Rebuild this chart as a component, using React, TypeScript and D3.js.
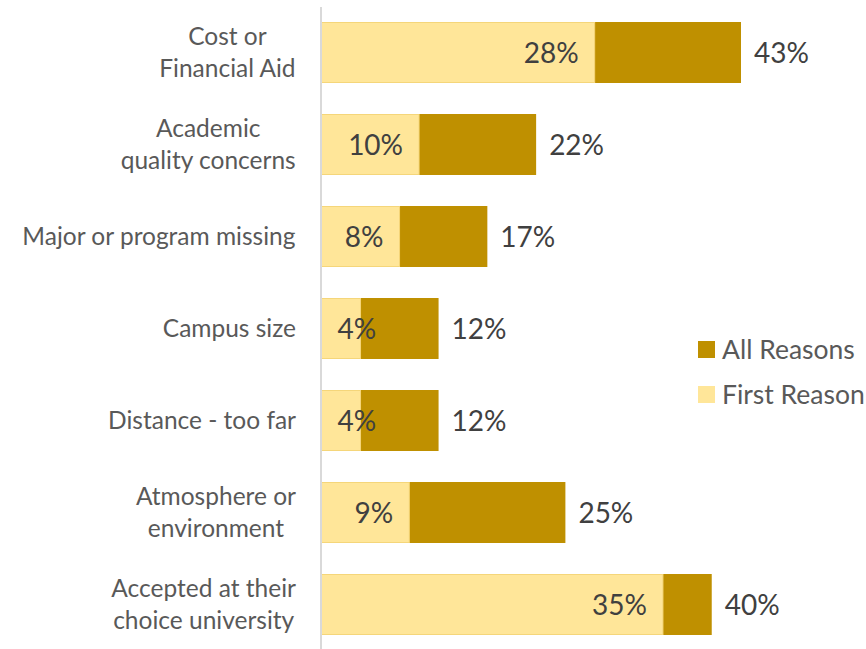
import React from "react";
import * as d3 from "d3";

const categories = [
  ["Cost or", "Financial Aid"],
  ["Academic", "quality concerns"],
  ["Major or program missing"],
  ["Campus size"],
  ["Distance - too far"],
  ["Atmosphere or", "environment"],
  ["Accepted at their", "choice university"],
];
const allReasons = [43, 22, 17, 12, 12, 25, 40];
const firstReason = [28, 10, 8, 4, 4, 9, 35];
const seriesNames = ["All Reasons", "First Reason"];

const W = 866;
const H = 649;
const FONT = "Lato, 'Open Sans', sans-serif";
const DARK = "#BF9000";
const LIGHT = "#FFE699";

let ctx: CanvasRenderingContext2D | null = null;
function measure(text: string, size: number) {
  if (!ctx) ctx = document.createElement("canvas").getContext("2d");
  if (!ctx) return text.length * size * 0.55;
  ctx.font = `${size}px Lato`;
  return ctx.measureText(text).width;
}

export default function App() {
  const keys = categories.map((c) => c.join(" "));
  const y = d3.scaleBand<string>().domain(keys).range([6.5, 650.5]).paddingInner(0.337).paddingOuter(0.1685);
  const x = d3.scaleLinear().domain([0, 43]).range([321.5, 741]);
  const bh = y.bandwidth();
  const valSize = 28;
  const catSize = 24.5;
  return (
    <svg width={W} height={H} style={{ position: "absolute", left: 0, top: 0, background: "#fff" }} fontFamily={FONT}>
      {keys.map((k, i) => {
        const y0 = y(k)!;
        const cy = y0 + bh / 2;
        const lines = categories[i];
        const fr = `${firstReason[i]}%`;
        const w = measure(fr, valSize);
        const lx = Math.max(x(0) + 16, x(firstReason[i]) - 16 - w);
        const maxW = Math.max(...lines.map((l) => measure(l, catSize)));
        const cx = 296 - maxW / 2;
        return (
          <g key={k}>
            <rect x={x(0)} y={y0} width={x(allReasons[i]) - x(0)} height={bh} fill={DARK} />
            <rect x={x(0)} y={y0 + 0.5} width={x(firstReason[i]) - x(0)} height={bh - 1} fill={LIGHT} stroke="#F5D67A" strokeWidth={1} />
            <text x={lx} y={cy} dy="0.36em" fontSize={valSize} fill="#404040">{fr}</text>
            <text x={x(allReasons[i]) + 13} y={cy} dy="0.36em" fontSize={valSize} fill="#404040">{`${allReasons[i]}%`}</text>
            {lines.map((ln, j) => (
              <text key={j} x={cx} y={cy + (j - (lines.length - 1) / 2) * 32} dy="0.36em" textAnchor="middle" fontSize={catSize} fill="#595959">{ln}</text>
            ))}
          </g>
        );
      })}
      <line x1={321} x2={321} y1={7} y2={H} stroke="#D9D9D9" strokeWidth={2} />
      {seriesNames.map((s, i) => (
        <g key={s}>
          <rect x={698} y={341 + i * 45} width={17} height={17} fill={i === 0 ? DARK : LIGHT} />
          <text x={722} y={349.5 + i * 45} dy="0.36em" fontSize={26.5} fill="#595959">{s}</text>
        </g>
      ))}
    </svg>
  );
}
